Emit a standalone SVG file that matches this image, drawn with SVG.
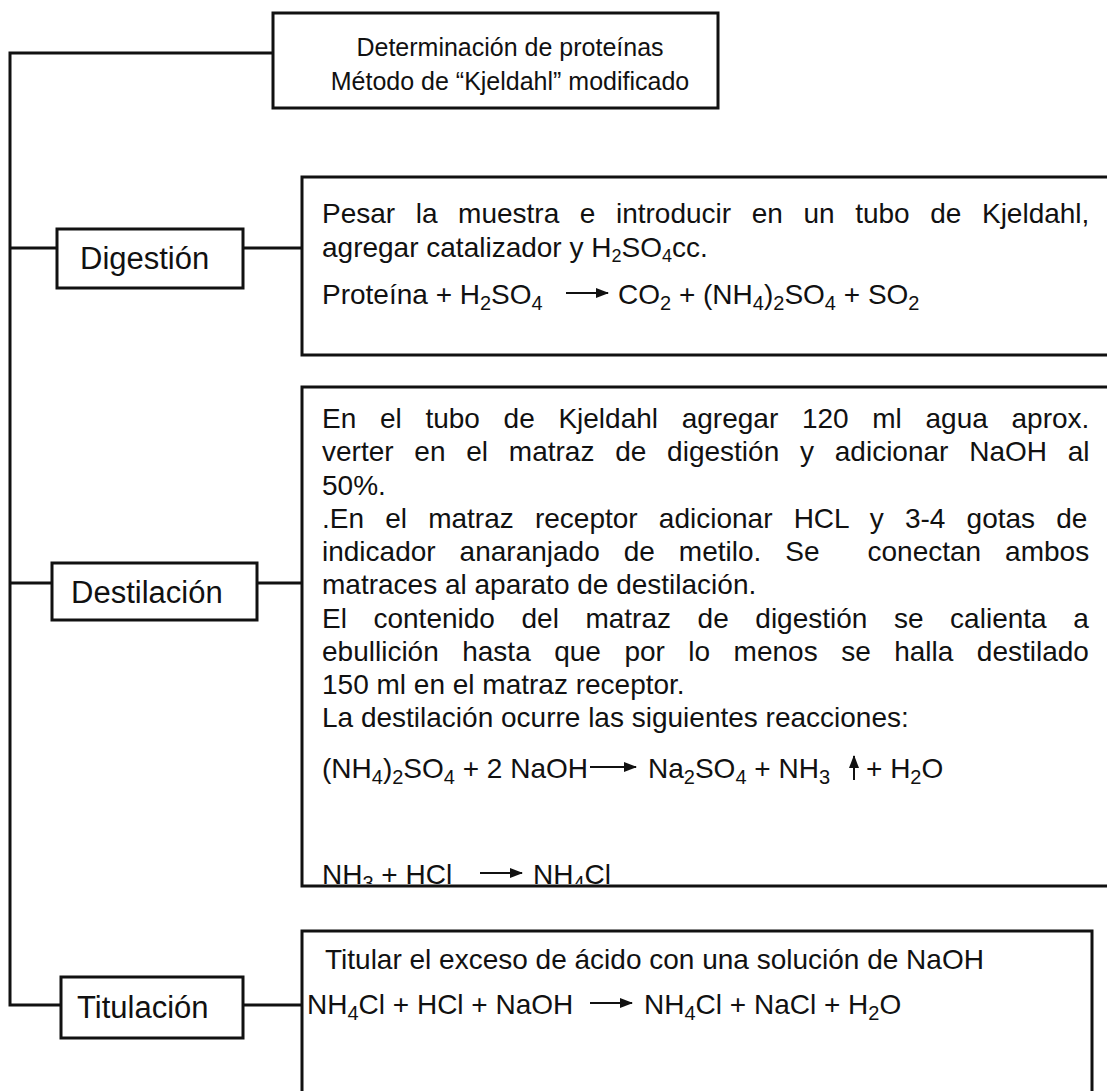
<svg xmlns="http://www.w3.org/2000/svg" width="1107" height="1091" viewBox="0 0 1107 1091">
  <style>
    text { font-family: "Liberation Sans", Arial, sans-serif; font-size: 28px; fill: #111; }
    .title { font-size: 25px; text-anchor: middle; }
    .label { font-size: 31px; }
    .eq { font-size: 30px; }
    .box { fill: #fff; stroke: #111; stroke-width: 3; }
    .wire { fill: none; stroke: #111; stroke-width: 3; }
    .rx { fill: none; stroke: #111; stroke-width: 2; }
    .s { font-size: 18px; }
    .eq .s { font-size: 20px; }
  </style>
  <defs>
    <marker id="head" viewBox="0 0 13 10" refX="12" refY="5" markerWidth="13" markerHeight="10" orient="auto" markerUnits="userSpaceOnUse">
      <path d="M0 0 L13 5 L0 10 z" fill="#111"/>
    </marker>
    <clipPath id="clipDes">
      <rect x="302" y="387" width="820" height="497"/>
    </clipPath>
  </defs>

  <!-- connectors: trunk from the title down to the three steps -->
  <g id="connectors">
    <path class="wire" d="M273 53 H10 V1005 H61"/>
    <path class="wire" d="M10 248 H57"/>
    <path class="wire" d="M243 248 H302"/>
    <path class="wire" d="M10 583 H52"/>
    <path class="wire" d="M257 583 H302"/>
    <path class="wire" d="M243 1005 H302"/>
  </g>

  <!-- title -->
  <g id="title">
    <rect class="box" x="273" y="13" width="445" height="95"/>
    <text class="title" x="510" y="56">Determinación de proteínas</text>
    <text class="title" x="510" y="90">Método de “Kjeldahl” modificado</text>
  </g>

  <!-- step 1: digestion -->
  <g id="digestion-label">
    <rect class="box" x="57" y="229" width="186" height="59"/>
    <text class="label" x="80" y="269">Digestión</text>
  </g>
  <g id="digestion-detail">
    <rect class="box" x="302" y="177" width="830" height="178"/>
    <text x="322" y="223" word-spacing="12.8">Pesar la muestra e introducir en un tubo de Kjeldahl,</text>
    <text x="322" y="257">agregar catalizador y H<tspan class="s" dy="5">2</tspan><tspan dy="-5">SO</tspan><tspan class="s" dy="5">4</tspan><tspan dy="-5">cc.</tspan></text>
    <g class="eq">
      <text x="322" y="304">Proteína + H<tspan class="s" dy="6">2</tspan><tspan dy="-6">SO</tspan><tspan class="s" dy="6">4</tspan></text>
      <line class="rx" x1="566" y1="293" x2="608" y2="293" marker-end="url(#head)"/>
      <text x="618" y="304">CO<tspan class="s" dy="6">2</tspan><tspan dy="-6"> + (NH</tspan><tspan class="s" dy="6">4</tspan><tspan dy="-6">)</tspan><tspan class="s" dy="6">2</tspan><tspan dy="-6">SO</tspan><tspan class="s" dy="6">4</tspan><tspan dy="-6"> + SO</tspan><tspan class="s" dy="6">2</tspan></text>
    </g>
  </g>

  <!-- step 2: distillation -->
  <g id="destilacion-label">
    <rect class="box" x="52" y="563" width="205" height="57"/>
    <text class="label" x="71" y="603">Destilación</text>
  </g>
  <g id="destilacion-detail">
    <rect class="box" x="302" y="387" width="830" height="499"/>
    <g clip-path="url(#clipDes)">
      <text x="322" y="428" word-spacing="15.9">En el tubo de Kjeldahl agregar 120 ml agua aprox.</text>
      <text x="322" y="461" word-spacing="13">verter en el matraz de digestión y adicionar NaOH al</text>
      <text x="322" y="495">50%.</text>
      <text x="322" y="528" word-spacing="13.4">.En el matraz receptor adicionar HCL y 3-4 gotas de</text>
      <text x="322" y="561" word-spacing="16.2" xml:space="preserve">indicador anaranjado de metilo. Se  conectan ambos</text>
      <text x="322" y="594">matraces al aparato de destilación.</text>
      <text x="322" y="628" word-spacing="18.8">El contenido del matraz de digestión se calienta a</text>
      <text x="322" y="661" word-spacing="15.7">ebullición hasta que por lo menos se halla destilado</text>
      <text x="322" y="694">150 ml en el matraz receptor.</text>
      <text x="322" y="727">La destilación ocurre las siguientes reacciones:</text>
      <g class="eq">
        <text x="322" y="778">(NH<tspan class="s" dy="6">4</tspan><tspan dy="-6">)</tspan><tspan class="s" dy="6">2</tspan><tspan dy="-6">SO</tspan><tspan class="s" dy="6">4</tspan><tspan dy="-6"> + 2 NaOH</tspan></text>
        <line class="rx" x1="590" y1="767" x2="636" y2="767" marker-end="url(#head)"/>
        <text x="648" y="778">Na<tspan class="s" dy="6">2</tspan><tspan dy="-6">SO</tspan><tspan class="s" dy="6">4</tspan><tspan dy="-6"> + NH</tspan><tspan class="s" dy="6">3</tspan></text>
        <line class="rx" x1="854" y1="780" x2="854" y2="756" marker-end="url(#head)"/>
        <text x="866" y="778">+ H<tspan class="s" dy="6">2</tspan><tspan dy="-6">O</tspan></text>
        <text x="322" y="884">NH<tspan class="s" dy="6">3</tspan><tspan dy="-6"> + HCl</tspan></text>
        <line class="rx" x1="480" y1="873" x2="522" y2="873" marker-end="url(#head)"/>
        <text x="533" y="884">NH<tspan class="s" dy="6">4</tspan><tspan dy="-6">Cl</tspan></text>
      </g>
    </g>
  </g>

  <!-- step 3: titration -->
  <g id="titulacion-label">
    <rect class="box" x="61" y="977" width="182" height="61"/>
    <text class="label" x="77" y="1018">Titulación</text>
  </g>
  <g id="titulacion-detail">
    <rect class="box" x="302" y="931" width="790" height="200"/>
    <text x="325" y="969">Titular el exceso de ácido con una solución de NaOH</text>
    <g class="eq">
      <text x="307" y="1014">NH<tspan class="s" dy="6">4</tspan><tspan dy="-6">Cl + HCl + NaOH</tspan></text>
      <line class="rx" x1="590" y1="1003" x2="632" y2="1003" marker-end="url(#head)"/>
      <text x="644" y="1014">NH<tspan class="s" dy="6">4</tspan><tspan dy="-6">Cl + NaCl + H</tspan><tspan class="s" dy="6">2</tspan><tspan dy="-6">O</tspan></text>
    </g>
  </g>
</svg>
